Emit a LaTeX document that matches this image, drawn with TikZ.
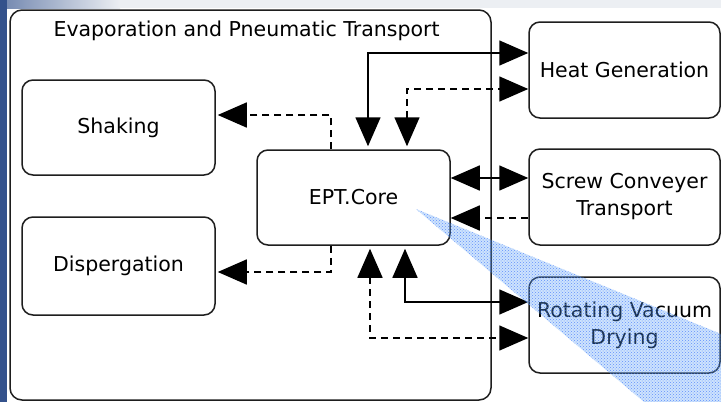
\documentclass[tikz,border=0pt]{standalone}
\usepackage{fontspec}
\setmainfont{DejaVu Sans}
\usetikzlibrary{arrows.meta,patterns,calc}
\definecolor{stripblue}{RGB}{52,82,140}
\definecolor{stripgray}{RGB}{236,239,243}
\definecolor{boxline}{RGB}{30,30,30}
\definecolor{beam}{RGB}{90,165,250}
\begin{document}
\begin{tikzpicture}[x=1pt,y=-1pt,
  every node/.style={font=\fontsize{20.5}{27}\selectfont, text=black},
  block/.style={draw=boxline, line width=1.5pt, rounded corners=11pt,
    inner sep=0pt, align=center, minimum width=193pt, minimum height=95pt},
  link/.style={line width=1.5pt, draw=black},
  dashlink/.style={link, dash pattern=on 7pt off 5pt},
  head/.style={-{Triangle[length=29pt,width=25pt]}},
  heads/.style={{Triangle[length=29pt,width=25pt]}-{Triangle[length=29pt,width=25pt]}}]

% page margins and window edges
\useasboundingbox (0,0) rectangle (721,402);
\fill[white] (0,0) rectangle (721,402);
\fill[stripgray] (0,0) rectangle (721,8);
\shade[left color=stripblue!70!white, right color=stripgray] (0,0) rectangle (120,8);
\fill[stripblue] (0,0) rectangle (7,402);

% container
\draw[boxline, line width=1.5pt, rounded corners=12pt] (10,10) rectangle (491,400);
\node (title) at (246.5,31) {Evaporation and Pneumatic Transport};

% inner blocks
\node[block] (shake) at (118.5,127.5) {Shaking};
\node[block, minimum height=98pt] (disp) at (118.5,266) {Dispergation};
\node[block] (core) at (353.5,197.5) {EPT.Core};

% outer blocks
\node[block, minimum width=191pt, minimum height=96pt] (heat) at (624.5,70) {Heat Generation};
\node[block, minimum width=191pt, minimum height=96pt] (screw) at (624.5,197) {Screw Conveyer\\Transport};
\node[block, minimum width=191pt, minimum height=96pt] (rot) at (624.5,325) {Rotating Vacuum\\Drying};

% anchor points of the connectors
\coordinate (h1) at ([yshift=17pt]heat.west);
\coordinate (h2) at ([yshift=-19pt]heat.west);
\coordinate (c1) at ([xshift=14.5pt]core.north);
\coordinate (c2) at ([xshift=53.5pt]core.north);
\coordinate (c3) at ([xshift=-22.5pt]core.north);
\coordinate (c4) at ([xshift=-22.5pt]core.south);
\coordinate (c5) at ([xshift=16.5pt]core.south);
\coordinate (c6) at ([xshift=51.5pt]core.south);
\coordinate (sh) at ([yshift=12.5pt]shake.east);
\coordinate (di) at ([yshift=-6pt]disp.east);
\coordinate (s1) at ([yshift=19pt]screw.west);
\coordinate (s2) at ([yshift=-21pt]screw.west);
\coordinate (r1) at ([yshift=23pt]rot.west);
\coordinate (r2) at ([yshift=-13pt]rot.west);

% connectors
\draw[link, heads] ([yshift=3pt]c1) |- (h1);
\draw[dashlink, heads] ([yshift=3pt]c2) |- (h2);
\draw[dashlink, head] (c3) |- ([xshift=2pt]sh);
\draw[dashlink, head] (c4) |- ([xshift=2pt]di);
\draw[link, heads] (s1 -| core.east) -- (s1);
\draw[dashlink, head] (s2) -- (s2 -| core.east);
\draw[link, heads] ([yshift=-3pt]c6) |- (r1);
\draw[dashlink, heads] ([yshift=-3pt]c5) |- (r2);

% translucent hatched beam
\fill[beam, fill opacity=0.3] (416,209) -- (721,334) -- (721,402) -- (644,402) -- cycle;
\fill[pattern=crosshatch dots, pattern color=beam!70!blue, fill opacity=0.75]
  (416,209) -- (721,334) -- (721,402) -- (644,402) -- cycle;
\end{tikzpicture}
\end{document}
